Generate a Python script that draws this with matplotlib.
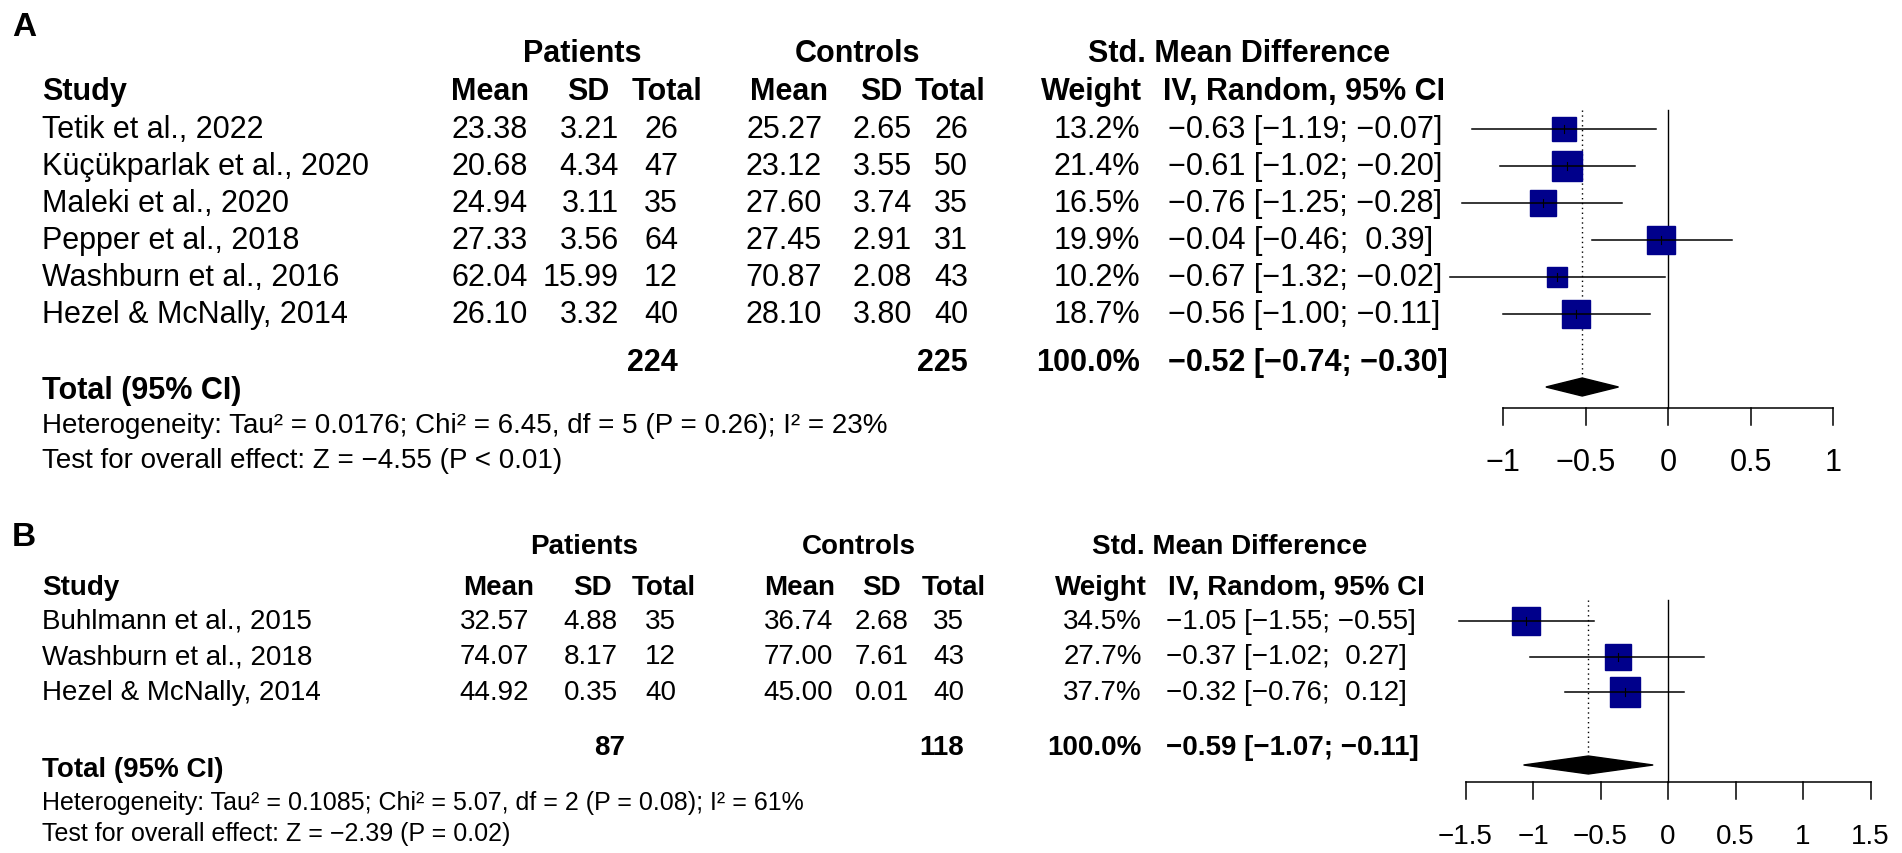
import numpy as np
import matplotlib.pyplot as plt

plt.rcParams['font.family'] = ['Liberation Sans', 'DejaVu Sans']

W, H = 1902, 854

# ---- Panel A data ----
a_studies = ['Tetik et al., 2022', 'Küçükparlak et al., 2020', 'Maleki et al., 2020',
             'Pepper et al., 2018', 'Washburn et al., 2016', 'Hezel & McNally, 2014']
a_pat_mean = [23.38, 20.68, 24.94, 27.33, 62.04, 26.10]
a_pat_sd = [3.21, 4.34, 3.11, 3.56, 15.99, 3.32]
a_pat_n = [26, 47, 35, 64, 12, 40]
a_con_mean = [25.27, 23.12, 27.60, 27.45, 70.87, 28.10]
a_con_sd = [2.65, 3.55, 3.74, 2.91, 2.08, 3.80]
a_con_n = [26, 50, 35, 31, 43, 40]
a_weight = [13.2, 21.4, 16.5, 19.9, 10.2, 18.7]
a_smd = [-0.63, -0.61, -0.76, -0.04, -0.67, -0.56]
a_lo = [-1.19, -1.02, -1.25, -0.46, -1.32, -1.00]
a_hi = [-0.07, -0.20, -0.28, 0.39, -0.02, -0.11]
a_pooled = [-0.52, -0.74, -0.30]
a_totals = [224, 225]
a_total_weight = 100.0
a_het = 'Heterogeneity: Tau² = 0.0176; Chi² = 6.45, df = 5 (P = 0.26); I² = 23%'
a_test = 'Test for overall effect: Z = −4.55 (P < 0.01)'
a_ticks = [-1, -0.5, 0, 0.5, 1]

# ---- Panel B data ----
b_studies = ['Buhlmann et al., 2015', 'Washburn et al., 2018', 'Hezel & McNally, 2014']
b_pat_mean = [32.57, 74.07, 44.92]
b_pat_sd = [4.88, 8.17, 0.35]
b_pat_n = [35, 12, 40]
b_con_mean = [36.74, 77.00, 45.00]
b_con_sd = [2.68, 7.61, 0.01]
b_con_n = [35, 43, 40]
b_weight = [34.5, 27.7, 37.7]
b_smd = [-1.05, -0.37, -0.32]
b_lo = [-1.55, -1.02, -0.76]
b_hi = [-0.55, 0.27, 0.12]
b_pooled = [-0.59, -1.07, -0.11]
b_totals = [87, 118]
b_total_weight = 100.0
b_het = 'Heterogeneity: Tau² = 0.1085; Chi² = 5.07, df = 2 (P = 0.08); I² = 61%'
b_test = 'Test for overall effect: Z = −2.39 (P = 0.02)'
b_ticks = [-1.5, -1, -0.5, 0, 0.5, 1, 1.5]

col_headers = ['Mean', 'SD', 'Total', 'Mean', 'SD', 'Total', 'Weight', 'IV, Random, 95% CI']
group_headers = ['Patients', 'Controls', 'Std. Mean Difference']


def num(v):
    s = f'{abs(v):.2f}'
    return '−' + s if v < 0 else s


def ci_text(e, lo, hi):
    hs = num(hi) if hi < 0 else ' ' + num(hi)
    return f'{num(e)} [{num(lo)}; {hs}]'


def tick_text(t):
    s = f'{abs(t):g}'
    return '−' + s if t < 0 else s


fig = plt.figure(figsize=(W / 100, H / 100), dpi=100)
bg = fig.add_axes([0, 0, 1, 1])
bg.set_xlim(0, W)
bg.set_ylim(H, 0)
bg.axis('off')


def draw_panel(letter, lay, studies, pm, psd, pn, cm, csd, cn, wt, smd, lo, hi,
               pooled, totals, tot_w, het, test, ticks):
    fs = lay['fs']
    bg.text(lay['letter'][0], lay['letter'][1], letter, fontsize=24, fontweight='bold',
            ha='left', va='center')
    for name, xc in zip(group_headers, lay['grp_x']):
        bg.text(xc, lay['y_grp'], name, fontsize=fs, fontweight='bold', ha='center', va='center')
    bg.text(42, lay['y_hdr'], 'Study', fontsize=fs, fontweight='bold', ha='left', va='center')
    for name, xc in zip(col_headers, lay['hdr_x']):
        bg.text(xc, lay['y_hdr'], name, fontsize=fs, fontweight='bold', ha='center', va='center')

    rx = lay['val_x']
    for i in range(len(studies)):
        y = lay['y0'] + i * lay['dy']
        bg.text(42, y, studies[i], fontsize=fs, ha='left', va='center')
        cells = [f'{pm[i]:.2f}', f'{psd[i]:.2f}', str(pn[i]),
                 f'{cm[i]:.2f}', f'{csd[i]:.2f}', str(cn[i]), f'{wt[i]:.1f}%']
        for s, x in zip(cells, rx):
            bg.text(x, y, s, fontsize=fs, ha='right', va='center')
        bg.text(lay['ci_x'], y, ci_text(smd[i], lo[i], hi[i]), fontsize=fs,
                ha='left', va='center')

    yt = lay['y_tot']
    bg.text(lay['tot_x'][0], yt, str(totals[0]), fontsize=fs, fontweight='bold', ha='right', va='center')
    bg.text(lay['tot_x'][1], yt, str(totals[1]), fontsize=fs, fontweight='bold', ha='right', va='center')
    bg.text(rx[6], yt, f'{tot_w:.1f}%', fontsize=fs, fontweight='bold', ha='right', va='center')
    bg.text(lay['ci_x'], yt, ci_text(*pooled), fontsize=fs, fontweight='bold', ha='left', va='center')
    bg.text(42, lay['y_tci'], 'Total (95% CI)', fontsize=fs, fontweight='bold', ha='left', va='center')
    bg.text(42, lay['y_het'], het, fontsize=lay['fs_het'], ha='left', va='center')
    bg.text(42, lay['y_test'], test, fontsize=lay['fs_het'], ha='left', va='center')

    # forest part: x in SMD units, y in pixels
    ax = fig.add_axes([0, 0, 1, 1])
    x0, unit = lay['zero_px'], lay['unit']
    ax.set_xlim(-x0 / unit, (W - x0) / unit)
    ax.set_ylim(H, 0)
    ax.axis('off')
    ax.patch.set_alpha(0)

    ax.plot([0, 0], [lay['v_top'], lay['y_axis']], color='black', lw=1.0, zorder=1)
    ax.plot([pooled[0], pooled[0]], [lay['v_top'], lay['dot_bot']], color='black', lw=1.0,
            ls=(0, (1, 2.5)), zorder=1)
    wmax = max(wt)
    for i in range(len(studies)):
        y = lay['y0'] + i * lay['dy']
        side = 30 * np.sqrt(wt[i] / wmax)
        ax.plot(smd[i], y, marker='s', ms=side * 0.72, color='#00008B', mec='#00008B', zorder=2)
        ax.plot([lo[i], hi[i]], [y, y], color='black', lw=1.1, zorder=3)
        ax.plot([smd[i], smd[i]], [y - 4, y + 4], color='black', lw=0.8, zorder=3)
    yd = lay['y_dia']
    ax.fill([pooled[1], pooled[0], pooled[2], pooled[0]], [yd, yd - 9, yd, yd + 9],
            color='black', zorder=3)

    ya = lay['y_axis']
    ax.plot([ticks[0], ticks[-1]], [ya, ya], color='black', lw=1.1)
    for t in ticks:
        ax.plot([t, t], [ya, ya + 17], color='black', lw=1.1)
        ax.text(t, lay['y_tick'], tick_text(t), fontsize=fs, ha='center', va='center')


lay_a = dict(fs=22, fs_het=20, letter=(12, 28), y_grp=54, y_hdr=92,
             grp_x=[582, 858, 1239],
             hdr_x=[490, 588, 667, 789, 881, 950, 1091, 1304],
             val_x=[528, 619, 678, 822, 912, 968, 1140], ci_x=1168,
             y0=130, dy=37, y_tot=363, tot_x=[678, 968], y_tci=391,
             y_het=426, y_test=461, zero_px=1668, unit=165,
             v_top=111, dot_bot=380, y_dia=388, y_axis=409, y_tick=463)

lay_b = dict(fs=20, fs_het=18, letter=(12, 538), y_grp=547, y_hdr=588,
             grp_x=[584, 859, 1230],
             hdr_x=[499, 592, 664, 800, 881, 954, 1101, 1296],
             val_x=[529, 618, 676, 833, 909, 964, 1142], ci_x=1166,
             y0=622, dy=35.5, y_tot=748, tot_x=[625, 964], y_tci=770,
             y_het=803, y_test=834, zero_px=1668, unit=135,
             v_top=601, dot_bot=755, y_dia=766, y_axis=783, y_tick=837)

draw_panel('A', lay_a, a_studies, a_pat_mean, a_pat_sd, a_pat_n, a_con_mean, a_con_sd,
           a_con_n, a_weight, a_smd, a_lo, a_hi, a_pooled, a_totals, a_total_weight,
           a_het, a_test, a_ticks)
draw_panel('B', lay_b, b_studies, b_pat_mean, b_pat_sd, b_pat_n, b_con_mean, b_con_sd,
           b_con_n, b_weight, b_smd, b_lo, b_hi, b_pooled, b_totals, b_total_weight,
           b_het, b_test, b_ticks)

fig.savefig('out.png', dpi=100, facecolor='white')
